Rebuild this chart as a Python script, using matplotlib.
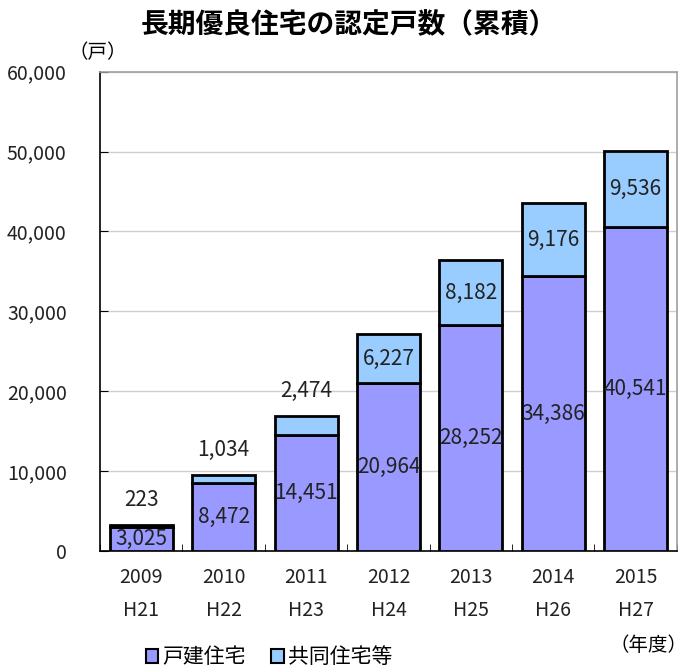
import matplotlib
matplotlib.use("Agg")
import matplotlib.pyplot as plt
from matplotlib.patches import Patch
import numpy as np

plt.rcParams['font.family'] = ['Noto Sans CJK JP', 'DejaVu Sans']

years = ["2009", "2010", "2011", "2012", "2013", "2014", "2015"]
heisei = ["H21", "H22", "H23", "H24", "H25", "H26", "H27"]
detached = [3025, 8472, 14451, 20964, 28252, 34386, 40541]
collective = [223, 1034, 2474, 6227, 8182, 9176, 9536]
yticks = [0, 10000, 20000, 30000, 40000, 50000, 60000]

c_det = "#9999FF"
c_col = "#99CCFF"

fig = plt.figure(figsize=(6.9, 6.7), dpi=100)
ax = fig.add_axes([0.145, 0.178, 0.836, 0.715])

x = np.arange(len(years))
w = 0.765
ax.bar(x, detached, w, color=c_det, edgecolor="black", linewidth=2, zorder=3)
ax.bar(x, collective, w, bottom=detached, color=c_col, edgecolor="black", linewidth=2, zorder=3)

ax.set_xlim(-0.5, len(years) - 0.5)
ax.set_ylim(0, 60000)
ax.set_yticks(yticks)
ax.set_yticklabels([f"{v:,}" for v in yticks], fontsize=14, color="#222222")
ax.yaxis.grid(True, color="#d0d0d0", linewidth=1, zorder=0)

ax.set_xticks(x)
ax.set_xticklabels([f"{a}\n{b}" for a, b in zip(years, heisei)], fontsize=14,
                   linespacing=1.75, color="#222222")
ax.tick_params(axis="x", length=0, pad=12)
ax.set_xticks(np.arange(len(years) + 1) - 0.5, minor=True)
ax.tick_params(axis="x", which="minor", direction="in", length=5, color="black")
ax.tick_params(axis="y", direction="in", length=6, color="black", pad=24)

for s in ["left", "bottom"]:
    ax.spines[s].set_color("black")
    ax.spines[s].set_linewidth(1.2)
for s in ["top", "right"]:
    ax.spines[s].set_color("#a0a0a0")
    ax.spines[s].set_linewidth(1.2)

for i in range(len(years)):
    d = detached[i]
    c = collective[i]
    ax.text(x[i], d / 2, f"{d:,}", ha="center", va="center", fontsize=15, zorder=5, color="#222222")
    if c < 4000:
        ax.annotate(f"{c:,}", (x[i], d + c), xytext=(0, 18), textcoords="offset points",
                    ha="center", va="center", fontsize=15, color="#222222")
    else:
        ax.text(x[i], d + c / 2, f"{c:,}", ha="center", va="center", fontsize=15, zorder=5, color="#222222")

fig.text(0.505, 0.963, "長期優良住宅の認定戸数（累積）", ha="center", va="center",
         fontsize=20, fontweight="bold")
fig.text(0.141, 0.922, "（戸）", ha="center", va="center", fontsize=14)
fig.text(0.94, 0.037, "（年度）", ha="center", va="center", fontsize=14)

handles = [Patch(facecolor=c_det, edgecolor="black", linewidth=1.5, label="戸建住宅"),
           Patch(facecolor=c_col, edgecolor="black", linewidth=1.5, label="共同住宅等")]
fig.legend(handles=handles, loc="center", bbox_to_anchor=(0.39, 0.019), ncol=2, frameon=False,
           fontsize=15, handlelength=0.6, handleheight=0.6, handletextpad=0.2, columnspacing=1.2,
           borderpad=0.1)

fig.savefig("out.png", dpi=100)
